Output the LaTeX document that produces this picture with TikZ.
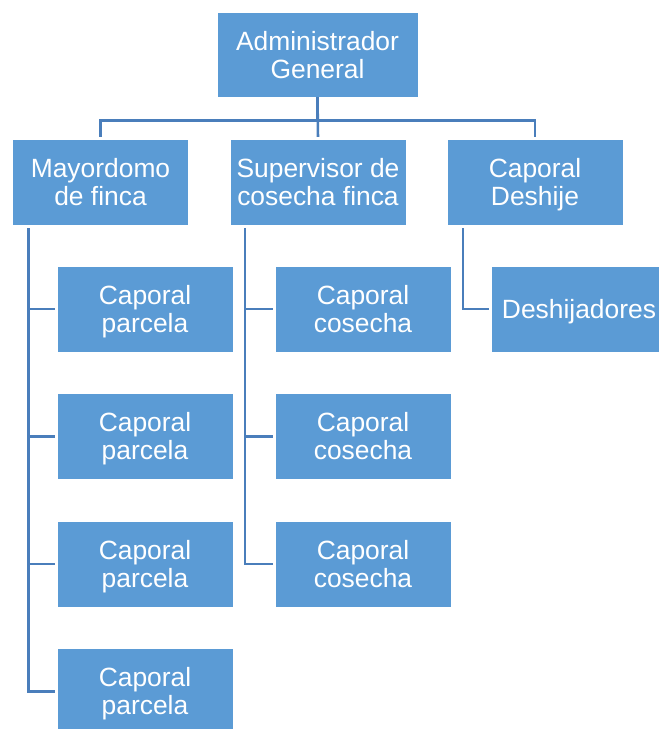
\documentclass[tikz,border=0pt]{standalone}
\usepackage{fontspec}
\setmainfont{Liberation Sans}
\usetikzlibrary{positioning}
\definecolor{fincaBlue}{RGB}{91,155,213}
\definecolor{fincaLine}{RGB}{74,126,187}

\begin{document}
\begin{tikzpicture}[x=1pt, y=-1pt,
      role/.style={fill=fincaBlue, draw=white, thin, minimum width=176pt, minimum height=86pt, inner sep=0pt,
      align=center, text=white, text depth=0pt, font=\fontsize{26.4}{28}\selectfont},
      link/.style={draw=fincaLine, line width=2.6pt, shorten <=3pt, shorten >=2pt}
    ]
    \useasboundingbox (0,0) rectangle (659,729);
    \node[role, minimum width=201pt, minimum height=85pt] (admin) at (317.5,54.5) {Administrador\\General};
    \node[role] (mayor) at (100.5,182) {Mayordomo\\de finca};
    \node[role] (superv) at (318,182) {Supervisor de\\cosecha finca};
    \node[role] (cdeshije) at (535,182) {Caporal\\Deshije};

    \node[role] (parcela1) at (145,309) {Caporal\\parcela};
    \node[role, below=41pt of parcela1] (parcela2) {Caporal\\parcela};
    \node[role, below=41pt of parcela2] (parcela3) {Caporal\\parcela};
    \node[role, below=41pt of parcela3] (parcela4) {Caporal\\parcela};

    \node[role] (cosecha1) at (363,309) {Caporal\\cosecha};
    \node[role, below=41pt of cosecha1] (cosecha2) {Caporal\\cosecha};
    \node[role, below=41pt of cosecha2] (cosecha3) {Caporal\\cosecha};

    \node[role] (deshij) at (579,309) {Deshijadores};

    \draw[link, shorten <=0pt] (admin.south) -- ++(0,23) -| (mayor.north);
    \draw[link, shorten <=0pt] (admin.south) -- (superv.north);
    \draw[link, shorten <=0pt] (admin.south) -- ++(0,23) -| (cdeshije.north);

    \foreach \k in {1,...,4}
      \draw[link] ([xshift=16pt]mayor.south west) |- (parcela\k.west);
    \foreach \k in {1,...,3}
      \draw[link] ([xshift=15pt]superv.south west) |- (cosecha\k.west);
    \draw[link] ([xshift=16pt]cdeshije.south west) |- (deshij.west);
  \end{tikzpicture}
\end{document}
